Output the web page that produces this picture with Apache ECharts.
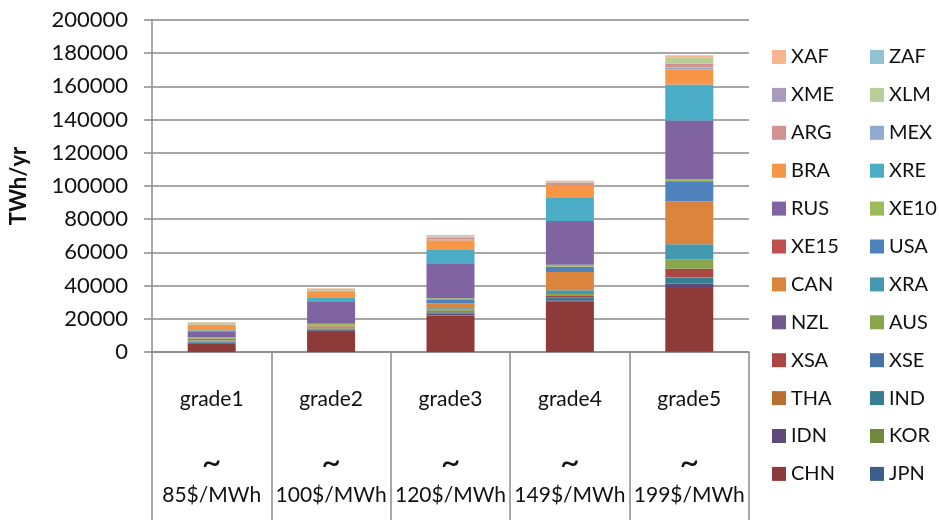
<!DOCTYPE html>
<html>
<head>
<meta charset="utf-8">
<script src="https://cdn.jsdelivr.net/npm/echarts@6/dist/echarts.min.js"></script>
<style>
  html, body { margin: 0; padding: 0; background: #fff; }
  #chart { width: 939px; height: 520px; }
</style>
</head>
<body>
<div id="chart"></div>
<script>
// Cost grades (category axis)
const grades = ['grade1', 'grade2', 'grade3', 'grade4', 'grade5'];
const prices = ['85$/MWh', '100$/MWh', '120$/MWh', '149$/MWh', '199$/MWh'];

// Y axis ticks
const yMin = 0, yMax = 200000, yStep = 20000;

// Regions, stacked from bottom to top
const regions = ['JPN','CHN','KOR','IDN','IND','THA','XSE','XSA','AUS','NZL','XRA','CAN',
                 'USA','XE15','XE10','RUS','XRE','BRA','MEX','ARG','XLM','XME','ZAF','XAF'];

// Potential per region and grade (TWh/yr)
const JPN  = [20, 30, 50, 50, 100];
const CHN  = [5200, 12600, 22000, 30100, 39000];
const KOR  = [20, 30, 50, 50, 100];
const IDN  = [300, 500, 1000, 1000, 2000];
const IND  = [500, 600, 800, 1800, 3400];
const THA  = [20, 30, 150, 50, 300];
const XSE  = [20, 30, 200, 50, 100];
const XSA  = [200, 300, 600, 600, 5200];
const AUS  = [300, 300, 600, 1200, 5400];
const NZL  = [20, 30, 50, 50, 100];
const XRA  = [200, 500, 800, 2200, 9200];
const CAN  = [300, 500, 3000, 11000, 25800];
const USA  = [800, 500, 2000, 3200, 12200];
const XE15 = [20, 30, 50, 50, 100];
const XE10 = [800, 1000, 1000, 1200, 1200];
const RUS  = [3400, 13200, 20600, 26300, 35300];
const XRE  = [1000, 2400, 9000, 13900, 21700];
const BRA  = [3200, 4000, 5400, 7600, 9200];
const MEX  = [100, 100, 400, 150, 1000];
const ARG  = [100, 300, 1000, 1400, 2400];
const XLM  = [1200, 1100, 700, 200, 3400];
const XME  = [20, 30, 200, 50, 200];
const ZAF  = [20, 30, 50, 50, 100];
const XAF  = [300, 200, 800, 900, 1200];

const values = { JPN, CHN, KOR, IDN, IND, THA, XSE, XSA, AUS, NZL, XRA, CAN,
                 USA, XE15, XE10, RUS, XRE, BRA, MEX, ARG, XLM, XME, ZAF, XAF };

const colors = {
  JPN: '#3a5f8b', CHN: '#8e3a38', KOR: '#71893f', IDN: '#5e4a7a', IND: '#357e91', THA: '#b8702f',
  XSE: '#4572a7', XSA: '#aa4643', AUS: '#89a54e', NZL: '#71588f', XRA: '#4198af', CAN: '#db843d',
  USA: '#4f81bd', XE15: '#c0504d', XE10: '#9bbb59', RUS: '#8064a2', XRE: '#4bacc6', BRA: '#f79646',
  MEX: '#93a9cf', ARG: '#d19392', XLM: '#b9cd96', XME: '#a99bbd', ZAF: '#92c3d4', XAF: '#f9b590'
};

// Legend laid out in two columns, top row first
const legendLeft  = ['XAF','XME','ARG','BRA','RUS','XE15','CAN','NZL','XSA','THA','IDN','CHN'];
const legendRight = ['ZAF','XLM','MEX','XRE','XE10','USA','XRA','AUS','XSE','IND','KOR','JPN'];

const FONT = 'Lato, "Open Sans", sans-serif';
const GRAY = '#8a8a8a';

const legendCommon = {
  orient: 'vertical',
  top: 40,
  itemWidth: 14,
  itemHeight: 14,
  itemGap: 13.9,
  icon: 'rect',
  selectedMode: false,
  textStyle: { fontFamily: FONT, fontSize: 20, color: '#111', lineHeight: 24 }
};

const chart = echarts.init(document.getElementById('chart'), null, { renderer: 'canvas' });

chart.setOption({
  animation: false,
  backgroundColor: '#fff',
  grid: { left: 152, right: 190, top: 20, bottom: 168, containLabel: false },
  legend: [
    Object.assign({}, legendCommon, { left: 767, data: legendLeft }),
    Object.assign({}, legendCommon, { left: 865, data: legendRight })
  ],
  xAxis: {
    type: 'category',
    // grade name, blank line, tilde, price bound
    data: grades.map((g, i) => '{g|' + g + '}\n{g| }\n{t|~}\n{g|' + prices[i] + '}'),
    axisLine: { lineStyle: { color: GRAY, width: 1.5 } },
    axisTick: { show: true, length: 168, lineStyle: { color: GRAY, width: 1.5 } },
    axisLabel: {
      interval: 0,
      margin: 31,
      fontFamily: FONT,
      fontSize: 21,
      color: '#111',
      lineHeight: 32,
      rich: {
        g: { fontFamily: FONT, fontSize: 21, color: '#111', lineHeight: 32 },
        t: { fontFamily: FONT, fontSize: 34, color: '#111', lineHeight: 32 }
      }
    }
  },
  yAxis: {
    type: 'value',
    min: yMin,
    max: yMax,
    interval: yStep,
    name: 'TWh/yr',
    nameLocation: 'middle',
    nameRotate: 90,
    nameGap: 122,
    nameTextStyle: { fontFamily: FONT, fontSize: 22, fontWeight: 'bold', color: '#111' },
    axisLine: { show: true, lineStyle: { color: GRAY, width: 1.5 } },
    axisTick: { show: true, length: 8, lineStyle: { color: GRAY, width: 1.5 } },
    axisLabel: { margin: 24, fontFamily: FONT, fontSize: 22, color: '#111',
                 formatter: v => String(v) },
    splitLine: { show: true, lineStyle: { color: GRAY, width: 1.5 } }
  },
  series: regions.map(r => ({
    name: r,
    type: 'bar',
    stack: 'total',
    barWidth: 48,
    data: values[r],
    itemStyle: { color: colors[r] }
  }))
});
</script>
</body>
</html>
